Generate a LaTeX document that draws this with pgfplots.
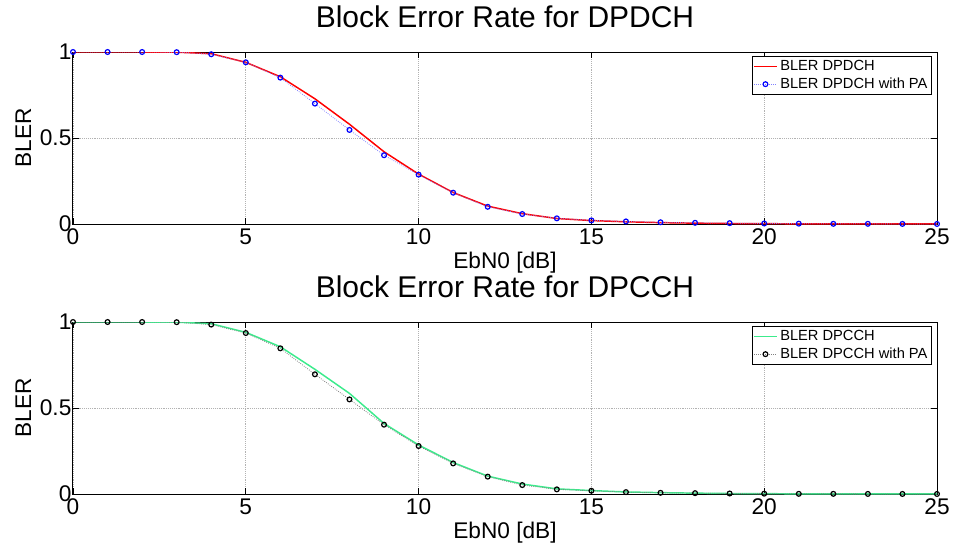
\documentclass[border=0pt]{standalone}
\usepackage{fontspec}
\setmainfont{Liberation Sans}
\usepackage{pgfplots}
\pgfplotsset{compat=1.18}
\definecolor{mgreen}{RGB}{60,235,140}
\pgfplotsset{
  bler/.style={
    scale only axis, width=648pt, height=129pt,
    xmin=0,xmax=25,ymin=0,ymax=1,
    xtick={0,5,...,25}, ytick={0,0.5,1},
    grid=major, major grid style={densely dotted, gray!60, line width=0.5pt},
    tick align=inside, tick style={black, line width=0.6pt}, major tick length=4.5pt,
    axis line style={line width=0.75pt},
    /pgf/number format/assume math mode=true,
    ticklabel style={font=\fontsize{17}{20}\selectfont},
    yticklabel style={inner sep=1pt},
    xlabel={EbN0 [dB]}, ylabel={BLER},
    label style={font=\fontsize{17}{20}\selectfont},
    xlabel style={at={(axis description cs:0.5,0)}, anchor=base, yshift=-33pt},
    ylabel style={at={(axis description cs:-0.0486,0.5)}, anchor=base},
    title style={at={(axis description cs:0.5,1)}, anchor=base, yshift=12.5pt, font=\fontsize{22.5}{26}\selectfont},
    legend style={at={(axis description cs:0.9942,0.978)}, anchor=north east, font=\fontsize{11}{13}\selectfont, draw=black, line width=0.75pt, inner sep=1pt, cells={anchor=west}},
  }
}
\begin{document}
\begin{tikzpicture}
\useasboundingbox (0,0) rectangle (714.75pt,-413.25pt);
\begin{axis}[bler, at={(54.75pt,-39pt)}, anchor=north west, title={Block Error Rate for DPDCH}]
\addplot[red, line width=1.1pt] coordinates {
(0,1)(1,1)(2,1)(3,0.999)(4,0.99)(5,0.94)(6,0.856)(7,0.728)(8,0.58)(9,0.42)(10,0.29)(11,0.183)(12,0.104)(13,0.06)(14,0.032)(15,0.02)(16,0.013)(17,0.008)(18,0.005)(19,0.003)(20,0.002)(21,0.001)(22,0.001)(23,0.0005)(24,0.0003)(25,0.0002)};
\addlegendentry{BLER DPDCH}
\addplot[blue!50, densely dotted, line width=0.6pt, mark=o, mark size=1.8pt, mark options={blue, solid, line width=0.9pt}] coordinates {
(0,1)(1,1)(2,1)(3,0.999)(4,0.987)(5,0.94)(6,0.851)(7,0.70)(8,0.547)(9,0.40)(10,0.287)(11,0.182)(12,0.10)(13,0.058)(14,0.033)(15,0.021)(16,0.015)(17,0.01)(18,0.007)(19,0.005)(20,0.003)(21,0.002)(22,0.001)(23,0.001)(24,0.0005)(25,0.0003)};
\addlegendentry{BLER DPDCH with PA}
\end{axis}
\begin{axis}[bler, at={(54.75pt,-241.5pt)}, anchor=north west, title={Block Error Rate for DPCCH}]
\addplot[mgreen, line width=1.1pt] coordinates {
(0,1)(1,1)(2,1)(3,0.999)(4,0.99)(5,0.94)(6,0.856)(7,0.725)(8,0.585)(9,0.41)(10,0.285)(11,0.183)(12,0.104)(13,0.058)(14,0.03)(15,0.02)(16,0.012)(17,0.008)(18,0.005)(19,0.003)(20,0.002)(21,0.001)(22,0.001)(23,0.0005)(24,0.0003)(25,0.0002)};
\addlegendentry{BLER DPCCH}
\addplot[black!50, densely dotted, line width=0.6pt, mark=o, mark size=1.8pt, mark options={black, solid, line width=0.9pt}] coordinates {
(0,1)(1,1)(2,1)(3,0.999)(4,0.985)(5,0.936)(6,0.847)(7,0.696)(8,0.55)(9,0.403)(10,0.279)(11,0.178)(12,0.101)(13,0.052)(14,0.027)(15,0.019)(16,0.011)(17,0.007)(18,0.005)(19,0.003)(20,0.002)(21,0.001)(22,0.001)(23,0.0005)(24,0.0003)(25,0.0002)};
\addlegendentry{BLER DPCCH with PA}
\end{axis}
\end{tikzpicture}
\end{document}
